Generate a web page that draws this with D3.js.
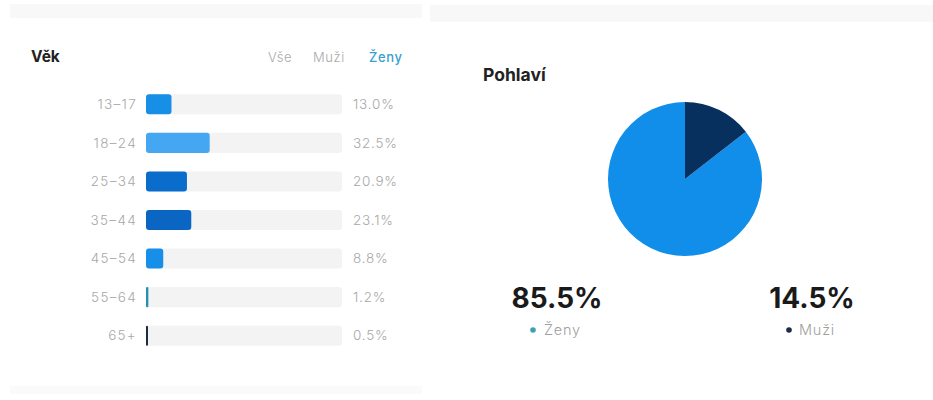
<!DOCTYPE html>
<html>
<head>
<meta charset="utf-8">
<script src="https://cdnjs.cloudflare.com/ajax/libs/d3/7.8.5/d3.min.js"></script>
<style>
  body { margin: 0; background: #fff; }
  text { font-family: "Inter", "Noto Sans", sans-serif; }
</style>
</head>
<body>
<svg id="chart" width="933" height="400"></svg>
<script>
// age breakdown (Ženy selected)
var ageGroups = ["13–17", "18–24", "25–34", "35–44", "45–54", "55–64", "65+"];
var agePct = [13.0, 32.5, 20.9, 23.1, 8.8, 1.2, 0.5];
var ageColors = ["#178fe6", "#45a6f2", "#0a6dcc", "#0b66c3", "#178fe9", "#2a8db5", "#1c2b4c"];
var filters = ["Vše", "Muži", "Ženy"];

// gender split
var genders = ["Ženy", "Muži"];
var genderPct = [85.5, 14.5];
var genderColors = ["#118ee9", "#07305f"];
var dotColors = ["#38a3b5", "#1c2b4c"];

var svg = d3.select("#chart");

// faint separator strips
svg.append("rect").attr("x", 10).attr("y", 4).attr("width", 412).attr("height", 14).attr("fill", "#f8f8f8");
svg.append("rect").attr("x", 430).attr("y", 5).attr("width", 503).attr("height", 17).attr("fill", "#f8f8f8");
svg.append("rect").attr("x", 10).attr("y", 386).attr("width", 412).attr("height", 8).attr("fill", "#fafafa");

// ---- left panel: age ----
svg.append("text").attr("x", 31).attr("y", 62).text("Věk")
    .attr("font-size", 15.5).attr("font-weight", 700).attr("fill", "#222");

var filterX = [268, 313, 369];
svg.selectAll(".filter").data(filters).enter().append("text")
    .attr("class", "filter")
    .attr("x", function(d, i) { return filterX[i]; })
    .attr("y", 62)
    .attr("font-size", 13)
    .attr("font-weight", function(d) { return d == "Ženy" ? 500 : 300; })
    .attr("letter-spacing", 0.6)
    .attr("fill", function(d) { return d == "Ženy" ? "#3a9fd0" : "#aaa"; })
    .text(function(d) { return d; });

var x = d3.scaleLinear().domain([0, 100]).range([146, 342]);
var y = d3.scaleBand().domain(ageGroups).range([85, 355]).paddingInner(0.48).paddingOuter(0.24);

var rows = svg.selectAll(".row").data(ageGroups).enter().append("g").attr("class", "row");

rows.append("rect")
    .attr("x", x(0)).attr("y", function(d) { return y(d); })
    .attr("width", x(100) - x(0)).attr("height", y.bandwidth())
    .attr("rx", 3).attr("fill", "#f3f3f3");

rows.append("rect")
    .attr("x", x(0)).attr("y", function(d) { return y(d); })
    .attr("width", function(d, i) { return Math.max(2, x(agePct[i]) - x(0)); })
    .attr("height", y.bandwidth())
    .attr("rx", function(d, i) { return agePct[i] < 2 ? 1 : 3; })
    .attr("fill", function(d, i) { return ageColors[i]; });

rows.append("text")
    .attr("x", 137).attr("y", function(d) { return y(d) + y.bandwidth() / 2; })
    .attr("dy", "0.35em").attr("text-anchor", "end")
    .attr("font-size", 13.5).attr("font-weight", 300).attr("letter-spacing", 1.3).attr("fill", "#a8a8a8")
    .text(function(d) { return d; });

rows.append("text")
    .attr("x", 353).attr("y", function(d) { return y(d) + y.bandwidth() / 2; })
    .attr("dy", "0.35em")
    .attr("font-size", 13.5).attr("font-weight", 300).attr("letter-spacing", 0.8).attr("fill", "#a8a8a8")
    .text(function(d, i) { return agePct[i].toFixed(1) + "%"; });

// ---- right panel: gender ----
svg.append("text").attr("x", 483).attr("y", 81).text("Pohlaví")
    .attr("font-size", 17.5).attr("font-weight", 700).attr("fill", "#222");

var pie = d3.pie().sort(null).startAngle(2 * Math.PI).endAngle(0);
var arc = d3.arc().innerRadius(0).outerRadius(77);
var pieG = svg.append("g").attr("transform", "translate(685,179)");
pieG.selectAll("path").data(pie(genderPct)).enter().append("path")
    .attr("d", arc)
    .attr("fill", function(d, i) { return genderColors[i]; });

var labelX = [557, 812];
var legend = svg.selectAll(".glabel").data(genders).enter().append("g")
    .attr("class", "glabel")
    .attr("transform", function(d, i) { return "translate(" + labelX[i] + ",0)"; });

legend.append("text")
    .attr("y", 308).attr("text-anchor", "middle")
    .attr("font-size", 28).attr("font-weight", 700).attr("fill", "#1a1a1a")
    .text(function(d, i) { return genderPct[i].toFixed(1) + "%"; });

legend.append("circle")
    .attr("cx", function(d) { return d == "Ženy" ? -24 : -23; })
    .attr("cy", 330).attr("r", 2.8)
    .attr("fill", function(d, i) { return dotColors[i]; });

legend.append("text")
    .attr("x", -13)
    .attr("y", 335)
    .attr("font-size", 14.5).attr("font-weight", 300).attr("letter-spacing", 0.8).attr("fill", "#a0a0a0")
    .text(function(d) { return d; });
</script>
</body>
</html>
